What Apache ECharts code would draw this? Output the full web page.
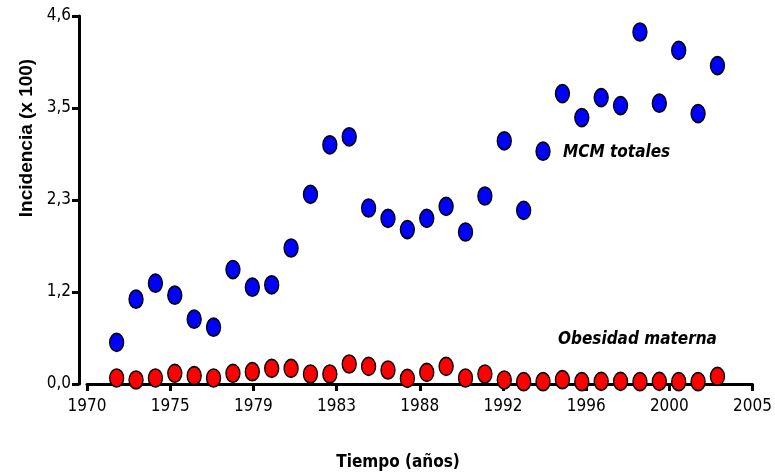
<!DOCTYPE html>
<html>
<head>
<meta charset="utf-8">
<script src="https://cdn.jsdelivr.net/npm/echarts@6/dist/echarts.min.js"></script>
<style>
html,body{margin:0;padding:0;background:#fff;}
#c{width:775px;height:474px;}
</style>
</head>
<body>
<div id="c"></div>
<script>
// Data
var years = [1972,1973,1974,1975,1976,1977,1978,1979,1980,1981,1982,1983,1984,1985,1986,1987,
             1988,1989,1990,1991,1992,1993,1994,1995,1996,1997,1998,1999,2000,2001,2002,2003];
var mcmTotales = [0.52,1.06,1.26,1.11,0.81,0.71,1.43,1.21,1.24,1.70,2.37,2.99,3.09,2.20,2.07,1.93,
                  2.07,2.22,1.90,2.35,3.04,2.17,2.91,3.63,3.33,3.58,3.48,4.40,3.51,4.17,3.38,3.98];
var obesidadMaterna = [0.075,0.05,0.075,0.133,0.104,0.075,0.133,0.154,0.195,0.195,0.125,0.125,0.25,0.22,0.175,0.07,
                       0.145,0.22,0.075,0.125,0.05,0.029,0.029,0.054,0.029,0.033,0.033,0.029,0.033,0.029,0.029,0.095];
var xTickLabels = ['1970','1975','1979','1983','1988','1992','1996','2000','2005'];
var yTickLabels = ['0,0','1,2','2,3','3,5','4,6'];

var narrow = '"Liberation Sans Narrow","DejaVu Sans Condensed","Arial Narrow",sans-serif';
var ellipse = 'path://M0,-9A7,9,0,1,1,0,9A7,9,0,1,1,0,-9Z';

function pairs(vals){ return years.map(function(y,i){ return [y, vals[i]]; }); }

var chart = echarts.init(document.getElementById('c'), null, {renderer:'canvas'});
chart.setOption({
  animation:false,
  backgroundColor:'#fff',
  grid:{left:87, right:18, top:16, bottom:90},
  xAxis:[
    {
      type:'value', min:0, max:8, interval:1, position:'bottom',
      axisLine:{show:true, onZero:false, lineStyle:{color:'#000', width:3}},
      axisTick:{show:true, inside:false, length:7, lineStyle:{color:'#000', width:3}},
      axisLabel:{color:'#000', fontFamily:narrow, fontSize:17, margin:14,
        formatter:function(v){ return xTickLabels[Math.round(v)]; }},
      splitLine:{show:false}
    },
    {
      type:'value', min:1970.47, max:2004.81, show:false, position:'bottom',
      axisLine:{onZero:false}
    }
  ],
  yAxis:{
    type:'value', min:0, max:4.6, interval:1.15, offset:8,
    axisLine:{show:true, onZero:false, lineStyle:{color:'#000', width:3}},
    axisTick:{show:true, inside:false, length:7, lineStyle:{color:'#000', width:3}},
    axisLabel:{color:'#000', fontFamily:narrow, fontSize:17, margin:8,
      formatter:function(v){ return yTickLabels[Math.round(v/1.15)]; }},
    splitLine:{show:false}
  },
  series:[
    {
      type:'scatter', name:'MCM totales', xAxisIndex:1, data:pairs(mcmTotales),
      symbol:ellipse, symbolSize:[14,18], clip:false,
      itemStyle:{color:'#0000ff', borderColor:'#000', borderWidth:1.5, opacity:1}
    },
    {
      type:'scatter', name:'Obesidad materna', xAxisIndex:1, data:pairs(obesidadMaterna),
      symbol:ellipse, symbolSize:[14,18], clip:false,
      itemStyle:{color:'#ff0000', borderColor:'#000', borderWidth:1.5, opacity:1}
    }
  ],
  graphic:[
    {type:'text', left:563, top:144, style:{text:'MCM totales', fill:'#000',
      font:'italic bold 17px ' + narrow}},
    {type:'text', left:558, top:331, style:{text:'Obesidad materna', fill:'#000',
      font:'italic bold 17px ' + narrow}},
    {type:'text', x:398, y:463, style:{text:'Tiempo (años)', fill:'#000', align:'center', verticalAlign:'middle',
      font:'bold 17px ' + narrow}},
    {type:'text', x:27, y:138, rotation:Math.PI/2, style:{text:'Incidencia (x 100)', fill:'#000', align:'center', verticalAlign:'middle',
      font:'bold 19px "Liberation Sans", Arial, sans-serif'}}
  ]
});
</script>
</body>
</html>
